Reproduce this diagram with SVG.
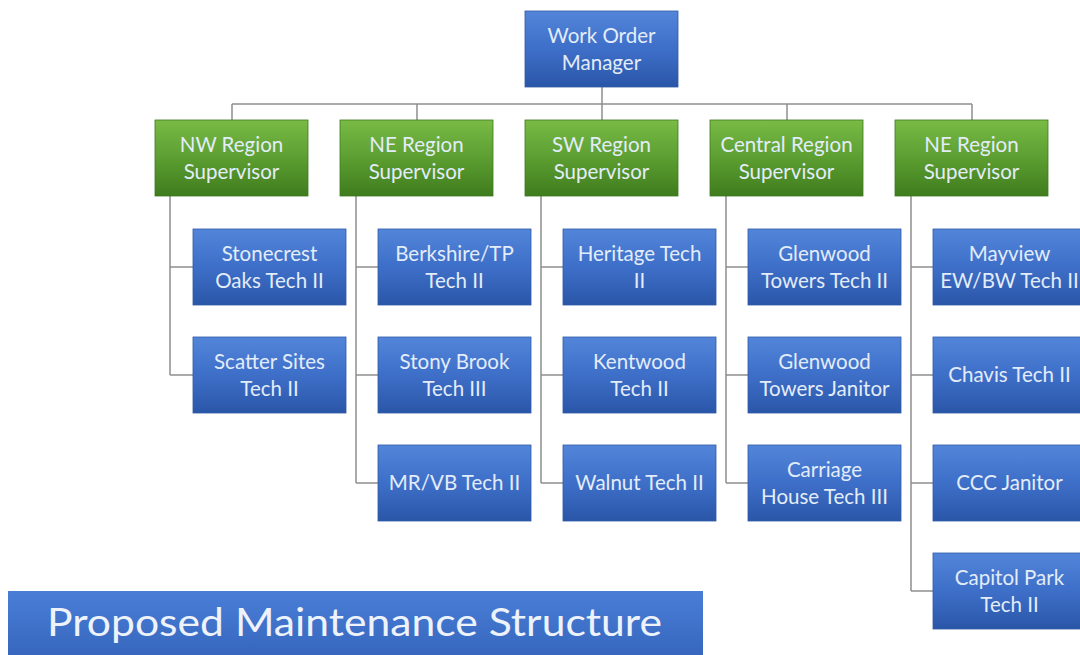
<svg xmlns="http://www.w3.org/2000/svg" width="1080" height="655" viewBox="0 0 1080 655">
<defs>
<linearGradient id="gb" x1="0" y1="0" x2="0" y2="1">
<stop offset="0" stop-color="#5285da"/><stop offset="0.5" stop-color="#3e6fc8"/><stop offset="1" stop-color="#2a56a8"/>
</linearGradient>
<linearGradient id="gg" x1="0" y1="0" x2="0" y2="1">
<stop offset="0" stop-color="#79bb45"/><stop offset="0.5" stop-color="#5c9e31"/><stop offset="1" stop-color="#3f7c1e"/>
</linearGradient>
<linearGradient id="gt" x1="0" y1="0" x2="0" y2="1">
<stop offset="0" stop-color="#4a7ed6"/><stop offset="1" stop-color="#3565bd"/>
</linearGradient>
</defs>
<style>
.b{fill:url(#gb);stroke:#2f5aa5;stroke-width:0.8}
.g{fill:url(#gg);stroke:#3c7a1e;stroke-width:0.8}
.t{font-family:Lato,"Liberation Sans",sans-serif;font-size:20.5px;fill:#e3ecf9;text-anchor:middle}
.c{fill:none;stroke:#8e8e8e;stroke-width:1.5}
</style>
<rect width="1080" height="655" fill="#ffffff"/>
<g id="connectors" class="c">
<path d="M602 87V104M232 104H972M232 104V120M417 104V120M602 104V120M787 104V120M972 104V120"/>
<path d="M170 196V375M170 267H193M170 375H193"/>
<path d="M356 196V483M356 267H378M356 375H378M356 483H378"/>
<path d="M541 196V483M541 267H563M541 375H563M541 483H563"/>
<path d="M726 196V483M726 267H748M726 375H748M726 483H748"/>
<path d="M911 196V591M911 267H933M911 375H933M911 483H933M911 591H933"/>
</g>
<g id="manager"><rect class="b" x="525" y="11" width="153" height="76"/><text class="t" x="601.5" y="43">Work Order</text><text class="t" x="601.5" y="70">Manager</text></g>
<g id="sup-nw"><rect class="g" x="155" y="120" width="153" height="76"/><text class="t" x="231.5" y="152">NW Region</text><text class="t" x="231.5" y="179">Supervisor</text></g>
<g id="sup-ne"><rect class="g" x="340" y="120" width="153" height="76"/><text class="t" x="416.5" y="152">NE Region</text><text class="t" x="416.5" y="179">Supervisor</text></g>
<g id="sup-sw"><rect class="g" x="525" y="120" width="153" height="76"/><text class="t" x="601.5" y="152">SW Region</text><text class="t" x="601.5" y="179">Supervisor</text></g>
<g id="sup-central"><rect class="g" x="710" y="120" width="153" height="76"/><text class="t" x="786.5" y="152">Central Region</text><text class="t" x="786.5" y="179">Supervisor</text></g>
<g id="sup-ne2"><rect class="g" x="895" y="120" width="153" height="76"/><text class="t" x="971.5" y="152">NE Region</text><text class="t" x="971.5" y="179">Supervisor</text></g>

<g id="stonecrest"><rect class="b" x="193" y="229" width="153" height="76"/><text class="t" x="269.5" y="261">Stonecrest</text><text class="t" x="269.5" y="288">Oaks Tech II</text></g>
<g id="scatter"><rect class="b" x="193" y="337" width="153" height="76"/><text class="t" x="269.5" y="369">Scatter Sites</text><text class="t" x="269.5" y="396">Tech II</text></g>

<g id="berkshire"><rect class="b" x="378" y="229" width="153" height="76"/><text class="t" x="454.5" y="261">Berkshire/TP</text><text class="t" x="454.5" y="288">Tech II</text></g>
<g id="stonybrook"><rect class="b" x="378" y="337" width="153" height="76"/><text class="t" x="454.5" y="369">Stony Brook</text><text class="t" x="454.5" y="396">Tech III</text></g>
<g id="mrvb"><rect class="b" x="378" y="445" width="153" height="76"/><text class="t" x="454.5" y="490">MR/VB Tech II</text></g>

<g id="heritage"><rect class="b" x="563" y="229" width="153" height="76"/><text class="t" x="639.5" y="261">Heritage Tech</text><text class="t" x="639.5" y="288">II</text></g>
<g id="kentwood"><rect class="b" x="563" y="337" width="153" height="76"/><text class="t" x="639.5" y="369">Kentwood</text><text class="t" x="639.5" y="396">Tech II</text></g>
<g id="walnut"><rect class="b" x="563" y="445" width="153" height="76"/><text class="t" x="639.5" y="490">Walnut Tech II</text></g>

<g id="glenwood-tech"><rect class="b" x="748" y="229" width="153" height="76"/><text class="t" x="824.5" y="261">Glenwood</text><text class="t" x="824.5" y="288">Towers Tech II</text></g>
<g id="glenwood-janitor"><rect class="b" x="748" y="337" width="153" height="76"/><text class="t" x="824.5" y="369">Glenwood</text><text class="t" x="824.5" y="396">Towers Janitor</text></g>
<g id="carriage"><rect class="b" x="748" y="445" width="153" height="76"/><text class="t" x="824.5" y="477">Carriage</text><text class="t" x="824.5" y="504">House Tech III</text></g>

<g id="mayview"><rect class="b" x="933" y="229" width="153" height="76"/><text class="t" x="1009.5" y="261">Mayview</text><text class="t" x="1009.5" y="288">EW/BW Tech II</text></g>
<g id="chavis"><rect class="b" x="933" y="337" width="153" height="76"/><text class="t" x="1009.5" y="382">Chavis Tech II</text></g>
<g id="ccc"><rect class="b" x="933" y="445" width="153" height="76"/><text class="t" x="1009.5" y="490">CCC Janitor</text></g>
<g id="capitol"><rect class="b" x="933" y="553" width="153" height="76"/><text class="t" x="1009.5" y="585">Capitol Park</text><text class="t" x="1009.5" y="612">Tech II</text></g>

<g id="title"><rect x="8" y="591" width="695" height="70" fill="url(#gt)"/><text x="47" y="636" font-family="Lato,'Liberation Sans',sans-serif" font-size="38" fill="#eef3fb" textLength="615" lengthAdjust="spacingAndGlyphs">Proposed Maintenance Structure</text></g>
</svg>
